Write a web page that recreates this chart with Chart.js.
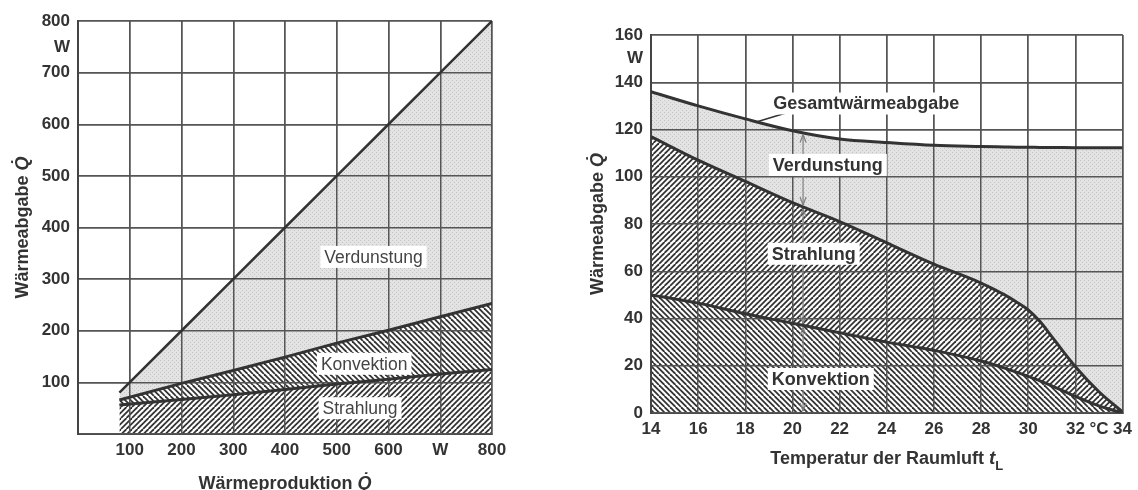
<!DOCTYPE html>
<html>
<head>
<meta charset="utf-8">
<script src="https://cdn.jsdelivr.net/npm/chart.js@4.4.1/dist/chart.umd.min.js"></script>
<style>
  body { margin: 0; background: #fff; width: 1138px; height: 490px; overflow: hidden; position: relative; }
  #links { position: absolute; left: 0; top: 0; }
  #rechts { position: absolute; left: 560px; top: 0; }
</style>
</head>
<body>
<canvas id="links" width="560" height="490"></canvas>
<canvas id="rechts" width="578" height="490"></canvas>
<script>
// linkes Diagramm: Wärmeabgabe über der Wärmeproduktion (W)
const produktion = [80, 200, 300, 400, 500, 600, 700, 800];
const strahlungLinks = [56, 67, 76, 86, 97, 106, 116, 125];
const konvektionSummeLinks = [66, 98, 123, 149, 176, 201, 227, 253];
const gesamtLinks = [80, 200, 300, 400, 500, 600, 700, 800];

const xWerteLinks = [100, 200, 300, 400, 500, 600, 700, 800];
const xTexteLinks = ['100', '200', '300', '400', '500', '600', 'W', '800'];
const yWerteLinks = [100, 200, 300, 400, 500, 600, 700, 750, 800];
const yTexteLinks = ['100', '200', '300', '400', '500', '600', '700', 'W', '800'];

// rechtes Diagramm: Wärmeabgabe über der Raumlufttemperatur
const temperatur = [14, 16, 18, 20, 22, 24, 26, 28, 29, 29.5, 30, 30.5, 31, 32, 33, 34];
const konvektionRechts = [50, 46.5, 42, 38, 34, 30, 26.5, 22, 19, 17.3, 15.5, 13.6, 11.5, 7, 3, 0];
const strahlungSummeRechts = [117, 107, 98, 89, 81, 72, 63, 55, 50, 47, 43.6, 38.7, 32.3, 19.6, 9, 0.5];
const gesamtRechts = [136, 130, 124.5, 119.5, 116, 114.5, 113.3, 112.8, 112.6, 112.5, 112.5, 112.4, 112.4, 112.3, 112.3, 112.3];

const xWerteRechts = [14, 16, 18, 20, 22, 24, 26, 28, 30, 32, 33, 34];
const xTexteRechts = ['14', '16', '18', '20', '22', '24', '26', '28', '30', '32', '°C', '34'];
const yWerteRechts = [0, 20, 40, 60, 80, 100, 120, 140, 150, 160];
const yTexteRechts = ['0', '20', '40', '60', '80', '100', '120', '140', 'W', '160'];

const TEXT = '#333';
const GRID = '#555';
const LINIE = '#333';
const FAMILY = '"Liberation Sans", Arial, sans-serif';

function punkte(xs, ys) {
  return xs.map((x, i) => ({ x: x, y: ys[i] }));
}

function interp(xs, ys, x) {
  for (let i = 1; i < xs.length; i++) {
    if (x <= xs[i]) {
      const t = (x - xs[i - 1]) / (xs[i] - xs[i - 1]);
      return ys[i - 1] + t * (ys[i] - ys[i - 1]);
    }
  }
  return ys[ys.length - 1];
}

// Muster: Schraffur und Punktraster
function schraffur(ctx, richtung) {
  const s = 11;
  const c = document.createElement('canvas');
  c.width = s; c.height = s;
  const g = c.getContext('2d');
  g.fillStyle = '#fff';
  g.fillRect(0, 0, s, s);
  g.strokeStyle = '#333';
  g.lineWidth = 1.8;
  for (let k = -3; k <= 4; k++) {
    const o = k * s / 2;
    g.beginPath();
    if (richtung === '/') { g.moveTo(o, s); g.lineTo(o + s, 0); }
    else { g.moveTo(o, 0); g.lineTo(o + s, s); }
    g.stroke();
  }
  return ctx.createPattern(c, 'repeat');
}

function raster(ctx) {
  const c = document.createElement('canvas');
  c.width = 4; c.height = 4;
  const g = c.getContext('2d');
  g.fillStyle = '#e3e3e3';
  g.fillRect(0, 0, 4, 4);
  g.fillStyle = '#c4c4c4';
  g.fillRect(0, 0, 1, 1);
  g.fillRect(2, 2, 1, 1);
  return ctx.createPattern(c, 'repeat');
}

function achse(min, max, schritt, werte, texte, gitter, pad, fit) {
  return {
    type: 'linear', min: min, max: max,
    ticks: {
      stepSize: schritt, autoSkip: false, maxRotation: 0, padding: pad, color: TEXT,
      font: { family: FAMILY, size: 17, weight: 'bold' },
      callback: v => { const i = werte.indexOf(v); return i < 0 ? '' : texte[i]; }
    },
    grid: {
      drawTicks: false, lineWidth: 1.5,
      color: c => (c.tick && c.tick.value % gitter === 0) ? GRID : 'rgba(0,0,0,0)'
    },
    border: { color: '#444', width: 2 },
    afterFit: fit
  };
}

function reicherText(ctx, teile, cx, cy, winkel) {
  ctx.save();
  ctx.translate(cx, cy);
  ctx.rotate(winkel);
  ctx.textBaseline = 'middle';
  ctx.textAlign = 'left';
  ctx.fillStyle = TEXT;
  let breite = 0;
  teile.forEach(t => { ctx.font = t.font; breite += ctx.measureText(t.text).width; });
  let x = -breite / 2;
  teile.forEach(t => {
    ctx.font = t.font;
    ctx.fillText(t.text, x, t.dy || 0);
    x += ctx.measureText(t.text).width;
  });
  ctx.restore();
}

function beschriftung(ctx, text, x, y, font, farbe) {
  ctx.save();
  ctx.font = font;
  ctx.textBaseline = 'middle';
  ctx.textAlign = 'center';
  const w = ctx.measureText(text).width;
  ctx.fillStyle = '#fff';
  ctx.fillRect(x - w / 2 - 4, y - 11, w + 8, 22);
  ctx.fillStyle = farbe;
  ctx.fillText(text, x, y + 1);
  ctx.restore();
}

function pfeil(ctx, x, y1, y2) {
  // Doppelpfeil zwischen y1 (oben) und y2 (unten)
  ctx.save();
  ctx.strokeStyle = '#808080';
  ctx.lineWidth = 1.2;
  ctx.beginPath();
  ctx.moveTo(x, y1 + 2); ctx.lineTo(x, y2 - 2);
  ctx.stroke();
  [[y1 + 2, 1], [y2 - 2, -1]].forEach(([y, r]) => {
    ctx.beginPath();
    ctx.moveTo(x, y);
    ctx.lineTo(x - 3, y + 8 * r);
    ctx.moveTo(x, y);
    ctx.lineTo(x + 3, y + 8 * r);
    ctx.stroke();
  });
  ctx.restore();
}

// Gitter nochmal über den Flächen zeichnen
const gitterOben = {
  id: 'gitterOben',
  beforeDatasetsDraw(chart) {
    ['x', 'y'].forEach(k => {
      const s = chart.scales[k];
      s.drawGrid(chart.chartArea);
      if (typeof s.drawBorder === 'function') s.drawBorder();
    });
  }
};

const titelFont = 'bold 18px ' + FAMILY;
const titelKursiv = 'italic bold 18px ' + FAMILY;

const ctxL = document.getElementById('links').getContext('2d');
const ctxR = document.getElementById('rechts').getContext('2d');

new Chart(ctxL, {
  type: 'line',
  data: {
    datasets: [
      { label: 'Strahlung', data: punkte(produktion, strahlungLinks), fill: 'origin',
        backgroundColor: schraffur(ctxL, '/'), borderColor: LINIE, borderWidth: 3 },
      { label: 'Konvektion', data: punkte(produktion, konvektionSummeLinks), fill: '-1',
        backgroundColor: schraffur(ctxL, '\\'), borderColor: LINIE, borderWidth: 3 },
      { label: 'Verdunstung', data: punkte(produktion, gesamtLinks), fill: '-1',
        backgroundColor: raster(ctxL), borderColor: LINIE, borderWidth: 2.5 }
    ]
  },
  options: {
    responsive: false,
    animation: false,
    devicePixelRatio: 1,
    elements: { point: { radius: 0 }, line: { tension: 0 } },
    layout: { autoPadding: false, padding: { top: 21, right: 68, left: 0, bottom: 0 } },
    scales: {
      x: achse(0, 800, 100, xWerteLinks, xTexteLinks, 100, 6, s => { s.height = 56; }),
      y: achse(0, 800, 50, yWerteLinks, yTexteLinks, 100, 8, s => { s.width = 78; })
    },
    plugins: {
      legend: { display: false },
      tooltip: { enabled: false },
      filler: { drawTime: 'beforeDatasetsDraw' }
    }
  },
  plugins: [gitterOben, {
    id: 'texteLinks',
    afterDraw(chart) {
      const { ctx, chartArea: a, scales: { x, y } } = chart;
      const f = '17.5px ' + FAMILY;
      beschriftung(ctx, 'Verdunstung', x.getPixelForValue(571), y.getPixelForValue(343), f, '#444');
      beschriftung(ctx, 'Konvektion', x.getPixelForValue(553), y.getPixelForValue(136), f, '#444');
      beschriftung(ctx, 'Strahlung', x.getPixelForValue(545), y.getPixelForValue(50), f, '#444');
      reicherText(ctx, [{ text: 'Wärmeabgabe ', font: titelFont }, { text: 'Q\u0307', font: titelKursiv }],
        23, (a.top + a.bottom) / 2, -Math.PI / 2);
      reicherText(ctx, [{ text: 'Wärmeproduktion ', font: titelFont }, { text: 'Q\u0307', font: titelKursiv }],
        (a.left + a.right) / 2, 484, 0);
    }
  }]
});

new Chart(ctxR, {
  type: 'line',
  data: {
    datasets: [
      { label: 'Konvektion', data: punkte(temperatur, konvektionRechts), fill: 'origin',
        backgroundColor: schraffur(ctxR, '\\'), borderColor: LINIE, borderWidth: 3 },
      { label: 'Strahlung', data: punkte(temperatur, strahlungSummeRechts), fill: '-1',
        backgroundColor: schraffur(ctxR, '/'), borderColor: LINIE, borderWidth: 3 },
      { label: 'Verdunstung', data: punkte(temperatur, gesamtRechts), fill: '-1',
        backgroundColor: raster(ctxR), borderColor: LINIE, borderWidth: 3 }
    ]
  },
  options: {
    responsive: false,
    animation: false,
    devicePixelRatio: 1,
    elements: { point: { radius: 0 }, line: { cubicInterpolationMode: 'monotone' } },
    layout: { autoPadding: false, padding: { top: 35, right: 14, left: 0, bottom: 0 } },
    scales: {
      x: achse(14, 34, 1, xWerteRechts, xTexteRechts, 2, 6, s => { s.height = 77; }),
      y: achse(0, 160, 10, yWerteRechts, yTexteRechts, 20, 8, s => { s.width = 91; })
    },
    plugins: {
      legend: { display: false },
      tooltip: { enabled: false },
      filler: { drawTime: 'beforeDatasetsDraw' }
    }
  },
  plugins: [gitterOben, {
    id: 'texteRechts',
    afterDraw(chart) {
      const { ctx, chartArea: a, scales: { x, y } } = chart;
      // Pfeile bei 20,45 °C zwischen den Kurven
      const tp = 20.45;
      const px = x.getPixelForValue(tp);
      const g = y.getPixelForValue(interp(temperatur, gesamtRechts, tp));
      const s = y.getPixelForValue(interp(temperatur, strahlungSummeRechts, tp));
      const k = y.getPixelForValue(interp(temperatur, konvektionRechts, tp));
      const n = y.getPixelForValue(0);
      pfeil(ctx, px, g, s);
      pfeil(ctx, px, s, k);
      pfeil(ctx, px, k, n);
      // Hinweislinie zur Gesamtkurve
      ctx.save();
      ctx.strokeStyle = LINIE;
      ctx.lineWidth = 1.5;
      ctx.beginPath();
      ctx.moveTo(x.getPixelForValue(19.9), y.getPixelForValue(127.5));
      ctx.lineTo(x.getPixelForValue(18.5), y.getPixelForValue(interp(temperatur, gesamtRechts, 18.5)));
      ctx.stroke();
      ctx.restore();
      const f = 'bold 18px ' + FAMILY;
      beschriftung(ctx, 'Gesamtwärmeabgabe', x.getPixelForValue(23.13), y.getPixelForValue(131), f, TEXT);
      beschriftung(ctx, 'Verdunstung', x.getPixelForValue(21.5), y.getPixelForValue(105), f, TEXT);
      beschriftung(ctx, 'Strahlung', x.getPixelForValue(20.9), y.getPixelForValue(67.4), f, TEXT);
      beschriftung(ctx, 'Konvektion', x.getPixelForValue(21.2), y.getPixelForValue(14.4), f, TEXT);
      reicherText(ctx, [{ text: 'Wärmeabgabe ', font: titelFont }, { text: 'Q\u0307', font: titelKursiv }],
        38, (a.top + a.bottom) / 2, -Math.PI / 2);
      reicherText(ctx, [
        { text: 'Temperatur der Raumluft ', font: titelFont },
        { text: 't', font: 'italic bold 19px ' + FAMILY },
        { text: 'L', font: 'bold 13px ' + FAMILY, dy: 7 }
      ], (a.left + a.right) / 2, 459, 0);
    }
  }]
});
</script>
</body>
</html>
